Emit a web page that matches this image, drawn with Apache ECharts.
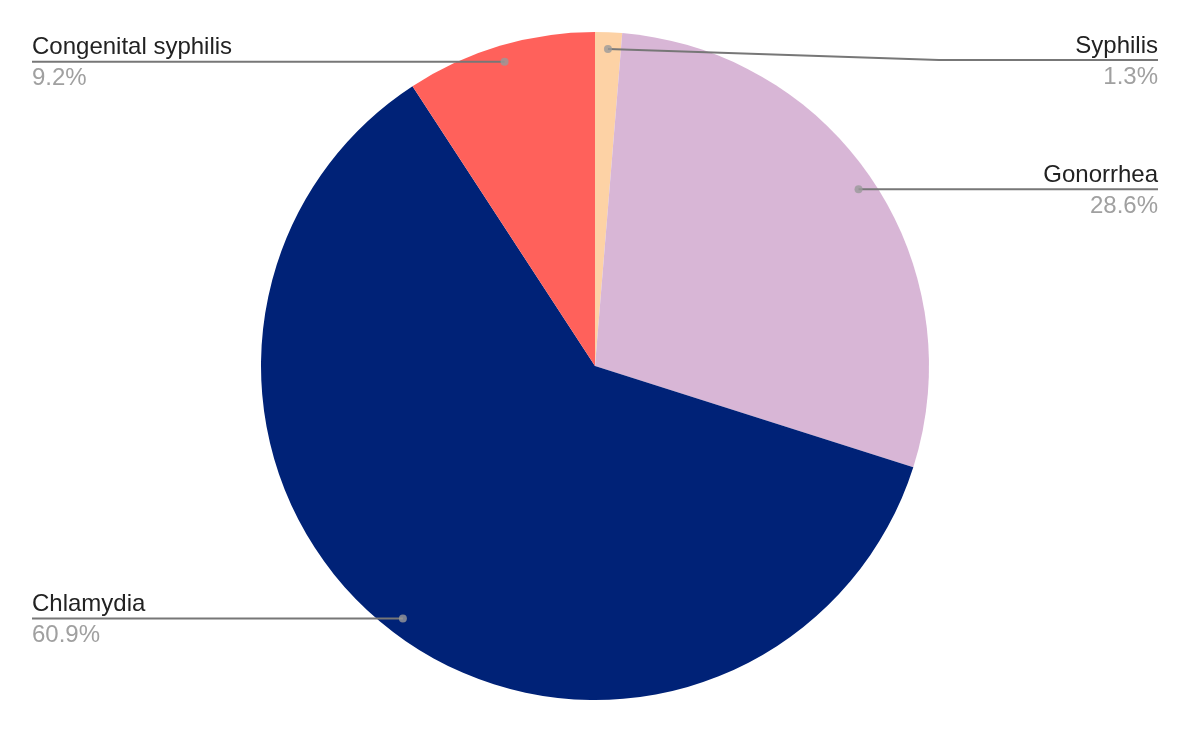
<!DOCTYPE html>
<html>
<head>
<meta charset="utf-8">
<script src="https://cdn.jsdelivr.net/npm/echarts@6/dist/echarts.min.js"></script>
<style>html,body{margin:0;padding:0;background:#fff}#c{width:1192px;height:732px}</style>
</head>
<body>
<div id="c"></div>
<script>
const categories = ['Syphilis', 'Gonorrhea', 'Chlamydia', 'Congenital syphilis'];
const values = [1.3, 28.6, 60.9, 9.2];
const colors = ['#fdd2a5', '#d8b6d6', '#002277', '#ff615b'];

const CX = 595, CY = 366, R = 334, DOT_K = 0.95;
const LEFT_X = 32, RIGHT_X = 1158, MIN_Y = 60;

const total = values.reduce((a, b) => a + b, 0);
const mids = [];
let acc = 0;
values.forEach(v => { mids.push((acc + v / 2) / total * 100); acc += v; });

function dotPos(i) {
  const a = Math.PI / 2 - 2 * Math.PI * mids[i] / 100;
  return [CX + R * DOT_K * Math.cos(a), CY - R * DOT_K * Math.sin(a)];
}

const FONT = 'Arial';

const chart = echarts.init(document.getElementById('c'));
chart.setOption({
  animation: false,
  backgroundColor: '#ffffff',
  polar: { center: [CX, CY], radius: R },
  angleAxis: { type: 'value', min: 0, max: 100, startAngle: 90, clockwise: true, show: false },
  radiusAxis: { type: 'value', min: 0, max: 1, show: false },
  series: [
    {
      type: 'pie',
      center: [CX, CY],
      radius: R,
      startAngle: 90,
      clockwise: true,
      z: 1,
      silent: true,
      emphasis: { disabled: true },
      data: categories.map((c, i) => ({ name: c, value: values[i], itemStyle: { color: colors[i] } })),
      label: { show: false },
      labelLine: { show: false }
    },
    {
      type: 'pie',
      center: [CX, CY],
      radius: R,
      startAngle: 90,
      clockwise: true,
      z: 5,
      silent: true,
      percentPrecision: 1,
      emphasis: { disabled: true },
      itemStyle: { color: 'rgba(0,0,0,0)' },
      data: categories.map((c, i) => ({ name: c, value: values[i] })),
      label: {
        show: true,
        position: 'outer',
        alignTo: 'none',
        padding: [6, 0, 0, 0],
        formatter: p => '{n|' + p.name + '}\n{p|' + p.percent.toFixed(1) + '%}',
        rich: {
          n: { fontFamily: FONT, fontSize: 24, color: '#222222', lineHeight: 28 },
          p: { fontFamily: FONT, fontSize: 24, color: '#a0a0a0', lineHeight: 34 }
        }
      },
      labelLine: { show: true, lineStyle: { color: '#777777', width: 2 } },
      labelLayout: function (params) {
        const i = params.dataIndex;
        const d = dotPos(i);
        const right = d[0] > CX;
        const y = Math.max(d[1], MIN_Y);
        const edgeX = right ? RIGHT_X : LEFT_X;
        const bendX = right ? CX + R * 1.03 : CX - R * 1.03;
        return {
          x: edgeX,
          y: y,
          align: right ? 'right' : 'left',
          verticalAlign: 'middle',
          labelLinePoints: [d, [bendX, y], [edgeX, y]]
        };
      }
    },
    {
      type: 'scatter',
      coordinateSystem: 'polar',
      symbol: 'circle',
      symbolSize: 8,
      silent: true,
      itemStyle: { color: '#9a9a9a' },
      data: mids.map(m => [DOT_K, m]),
      z: 10
    }
  ]
});
</script>
</body>
</html>
